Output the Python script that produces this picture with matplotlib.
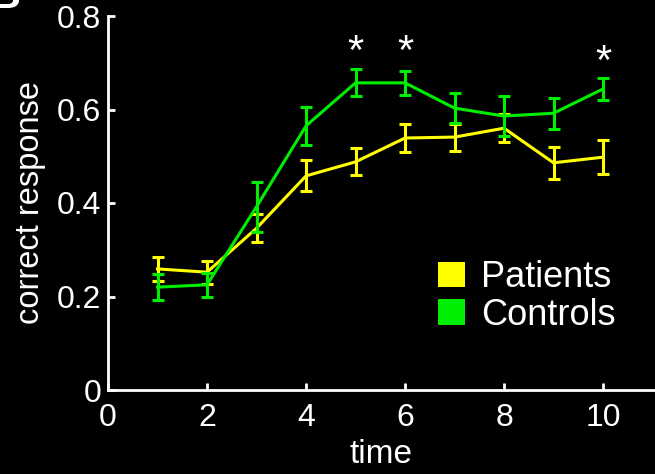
import matplotlib
matplotlib.use("Agg")
import matplotlib.pyplot as plt
from matplotlib.patches import Patch

time = [1, 2, 3, 4, 5, 6, 7, 8, 9, 10]
patients = [0.259, 0.252, 0.346, 0.458, 0.488, 0.539, 0.541, 0.560, 0.486, 0.498]
patients_err = [0.025, 0.025, 0.030, 0.033, 0.029, 0.029, 0.029, 0.030, 0.034, 0.036]
controls = [0.220, 0.225, 0.392, 0.565, 0.657, 0.657, 0.603, 0.586, 0.592, 0.644]
controls_err = [0.028, 0.025, 0.053, 0.040, 0.029, 0.025, 0.032, 0.042, 0.033, 0.024]
star_x = [5, 6, 10]
star_y = [0.720, 0.720, 0.700]

YELLOW = "#FFFF00"
GREEN = "#00EE00"

plt.rcParams.update({
    "font.family": ["Liberation Sans", "DejaVu Sans"],
    "font.size": 24,
    "figure.facecolor": "black",
    "axes.facecolor": "black",
})

fig = plt.figure(figsize=(6.55, 4.74), dpi=100)
ax = fig.add_axes([108 / 655, 1 - 390 / 474, 1 - 108 / 655, (390 - 16) / 474])

ax.errorbar(time, patients, yerr=patients_err, color=YELLOW, linewidth=2.2,
            elinewidth=2.2, capsize=4.5, capthick=2.2, zorder=2)
ax.errorbar(time, controls, yerr=controls_err, color=GREEN, linewidth=2.2,
            elinewidth=2.2, capsize=4.5, capthick=2.2, zorder=3)

for x, y in zip(star_x, star_y):
    ax.text(x, y, "*", color="white", ha="center", va="center", fontsize=30)

ax.set_xlim(0, 11.05)
ax.set_ylim(0, 0.8)
ax.set_xticks([0, 2, 4, 6, 8, 10])
ax.set_yticks([0, 0.2, 0.4, 0.6, 0.8])
ax.set_yticklabels(["0", "0.2", "0.4", "0.6", "0.8"])
ax.tick_params(direction="in", length=5, width=2, colors="white", labelsize=23)
ax.tick_params(axis="x", pad=9.5)
ax.tick_params(axis="y", pad=5)
for spine in ("top", "right"):
    ax.spines[spine].set_visible(False)
for spine in ("left", "bottom"):
    ax.spines[spine].set_color("white")
    ax.spines[spine].set_linewidth(2)
    ax.spines[spine].set_clip_on(False)

ax.set_xlabel("time", color="white", fontsize=24, labelpad=4)
ax.set_ylabel("correct response", color="white", fontsize=23.5, labelpad=8)

handles = [Patch(facecolor=YELLOW, edgecolor="none"), Patch(facecolor=GREEN, edgecolor="none")]
leg = ax.legend(handles, ["Patients", "Controls"], loc="upper left",
                bbox_to_anchor=(438 / 655, 1 - 260 / 474), bbox_transform=fig.transFigure,
                frameon=False, fontsize=26, handlelength=0.75, handleheight=0.72,
                handletextpad=0.45, labelspacing=0.08, borderpad=0, borderaxespad=0)
for t in leg.get_texts():
    t.set_color("white")

# panel letter, mostly cropped off the top edge as in the original
fig.text(-10 / 655, 1 - 8 / 474, "B", color="white", fontsize=30, fontweight="bold",
         ha="left", va="baseline")

fig.savefig("out.png", dpi=100, facecolor="black")
